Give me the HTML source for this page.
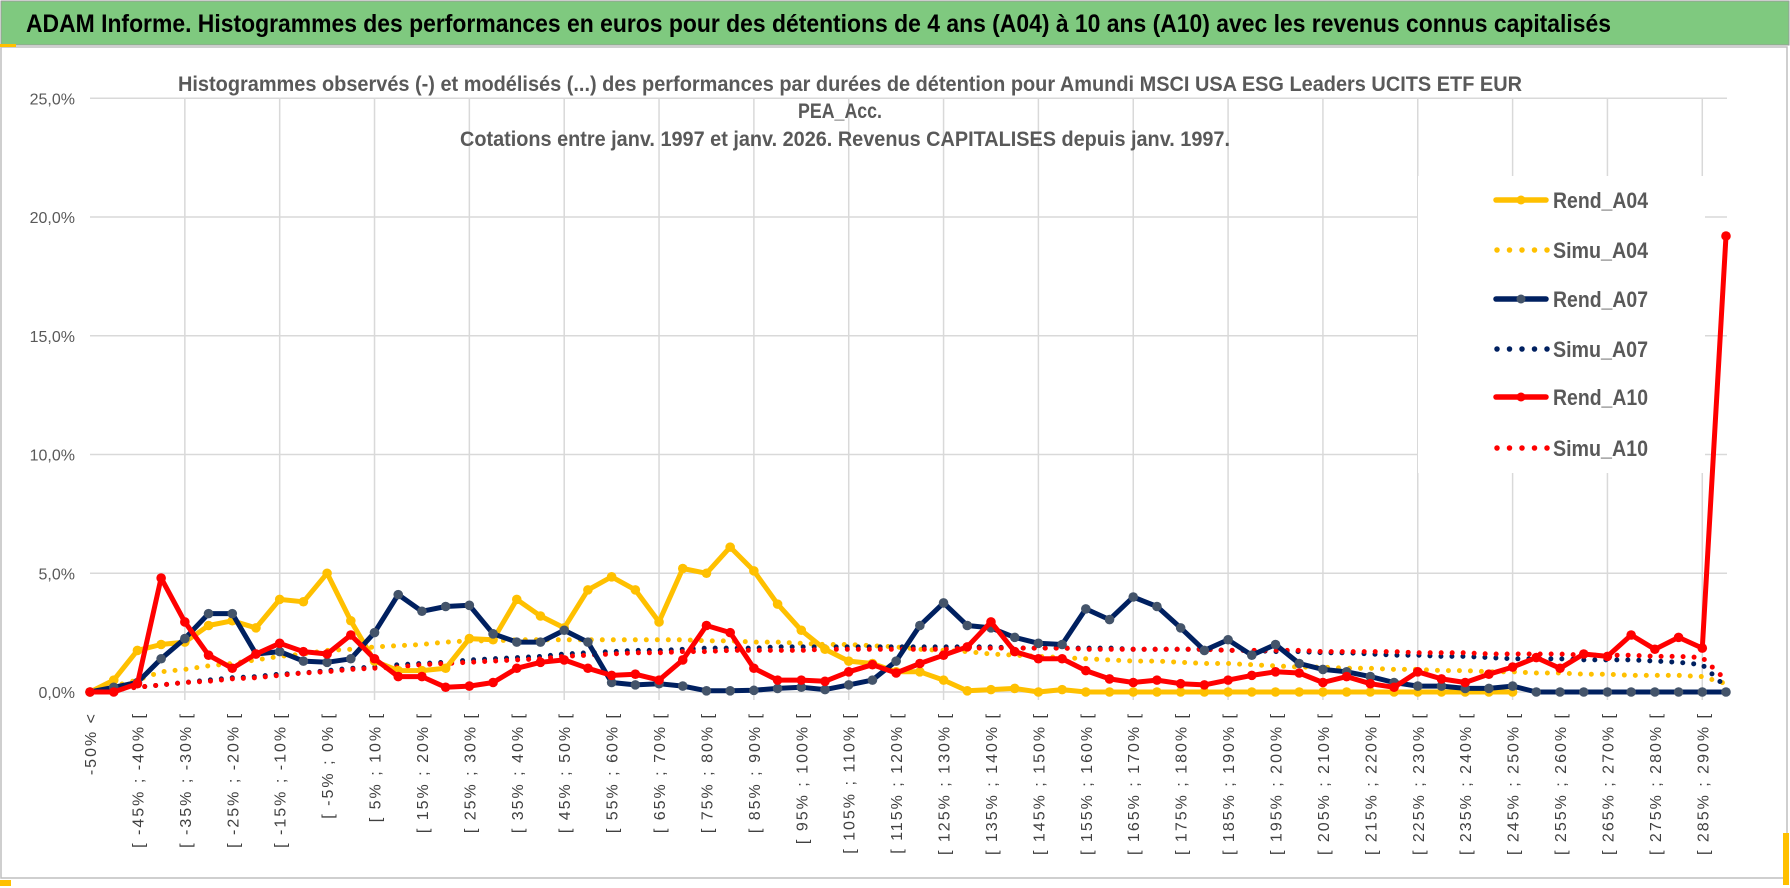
<!DOCTYPE html>
<html><head><meta charset="utf-8"><title>ADAM Informe histogrammes</title>
<style>
html,body{margin:0;padding:0;background:#fff;}
svg{display:block;}
text{font-family:"Liberation Sans",sans-serif;}
</style></head>
<body>
<svg id="chart" width="1790" height="888" viewBox="0 0 1790 888" xmlns="http://www.w3.org/2000/svg">
  <rect x="1" y="1" width="1788" height="44" fill="#7fc97f" stroke="#9a9a9a" stroke-width="1"/>
  <text x="26" y="32" font-size="25" font-weight="bold" fill="#000" textLength="1585" lengthAdjust="spacingAndGlyphs">ADAM Informe. Histogrammes des performances en euros pour des détentions de 4 ans (A04) à 10 ans (A10) avec les revenus connus capitalisés</text>
  <rect x="1" y="47" width="1786" height="831" fill="#fff" stroke="#bfbfbf" stroke-width="1.5"/>
  <rect x="0" y="44" width="16" height="3" fill="#FFC000"/>
  <rect x="0" y="880" width="11" height="6" fill="#FFC000"/>
  <rect x="1783" y="833" width="6" height="52" fill="#FFC000"/>
  <g id="grid"></g>
  <g id="ylabels"></g>
  <g id="xlabels"></g>
  <g id="legend"></g>
  <g id="series"></g>
  <g fill="#595959" font-weight="bold" font-size="21">
    <text x="178" y="91" textLength="1344" lengthAdjust="spacingAndGlyphs">Histogrammes observés (-) et modélisés (...) des performances par durées de détention pour Amundi MSCI USA ESG Leaders UCITS ETF EUR</text>
    <text x="840" y="118" text-anchor="middle" textLength="84" lengthAdjust="spacingAndGlyphs">PEA_Acc.</text>
    <text x="460" y="146" textLength="770" lengthAdjust="spacingAndGlyphs">Cotations entre janv. 1997 et janv. 2026. Revenus CAPITALISES depuis janv. 1997.</text>
  </g>
</svg>
<script>
const categories = ["-50% <"];
for (let a = -50; a < 290; a += 5) categories.push("[ " + a + "% ; " + (a + 5) + "% [");
categories.push("[ 290% ; 295% [");
const yTicks = [0, 5, 10, 15, 20, 25];
const yTickLabels = ["0,0%", "5,0%", "10,0%", "15,0%", "20,0%", "25,0%"];
const seriesNames = ["Rend_A04", "Simu_A04", "Rend_A07", "Simu_A07", "Rend_A10", "Simu_A10"];
const rendA04 = [0,0.5,1.75,2.0,2.1,2.8,3.0,2.7,3.9,3.8,5.0,3.0,1.3,0.9,0.9,1.0,2.25,2.2,3.9,3.2,2.7,4.3,4.85,4.3,2.95,5.2,5.0,6.1,5.1,3.7,2.6,1.8,1.3,1.2,0.85,0.85,0.5,0.05,0.1,0.15,0,0.1,0,0,0,0,0,0,0,0,0,0,0,0,0,0,0,0,0,0,0,null,null,null,null,null,null,null,null,null];
const simuA04 = [0,0.25,0.5,0.85,0.95,1.1,1.2,1.35,1.5,1.6,1.75,1.8,1.9,1.95,2.0,2.1,2.15,2.15,2.2,2.2,2.2,2.2,2.2,2.2,2.2,2.2,2.15,2.15,2.1,2.1,2.05,2.0,2.0,1.95,1.9,1.8,1.75,1.7,1.6,1.55,1.5,1.45,1.4,1.35,1.3,1.3,1.25,1.2,1.2,1.15,1.1,1.05,1.05,1.0,1.0,0.95,0.95,0.9,0.9,0.85,0.85,0.8,0.8,0.75,0.75,0.7,0.7,0.7,0.65,0.35];
const rendA07 = [0,0.2,0.4,1.4,2.25,3.3,3.3,1.6,1.7,1.3,1.25,1.4,2.5,4.1,3.4,3.6,3.65,2.45,2.1,2.1,2.6,2.1,0.4,0.3,0.35,0.25,0.05,0.05,0.07,0.15,0.2,0.1,0.3,0.5,1.3,2.8,3.75,2.8,2.7,2.3,2.05,2.0,3.5,3.05,4.0,3.6,2.7,1.75,2.2,1.55,2.0,1.2,0.95,0.85,0.65,0.4,0.25,0.25,0.15,0.15,0.25,0,0,0,0,0,0,0,0,0];
const simuA07 = [0,0.1,0.2,0.3,0.4,0.5,0.6,0.65,0.75,0.8,0.9,1.0,1.05,1.15,1.2,1.25,1.35,1.4,1.45,1.5,1.6,1.65,1.7,1.75,1.75,1.8,1.85,1.85,1.85,1.9,1.9,1.9,1.9,1.9,1.9,1.9,1.9,1.9,1.9,1.85,1.85,1.85,1.85,1.85,1.8,1.8,1.8,1.8,1.75,1.75,1.7,1.7,1.65,1.65,1.6,1.55,1.55,1.5,1.5,1.45,1.4,1.4,1.4,1.35,1.35,1.35,1.3,1.25,1.15,0.2];
const rendA10 = [0,0,0.35,4.8,2.95,1.55,1.0,1.6,2.05,1.7,1.6,2.4,1.4,0.65,0.65,0.2,0.25,0.4,1.0,1.25,1.35,1.0,0.7,0.75,0.5,1.35,2.8,2.5,1.0,0.5,0.5,0.45,0.85,1.15,0.8,1.2,1.55,1.9,2.95,1.7,1.4,1.4,0.9,0.55,0.4,0.5,0.35,0.3,0.5,0.7,0.85,0.8,0.4,0.65,0.35,0.2,0.85,0.55,0.4,0.75,1.05,1.45,1.0,1.6,1.5,2.4,1.8,2.3,1.85,19.2];
const simuA10 = [0,0.1,0.2,0.3,0.4,0.45,0.55,0.6,0.7,0.8,0.85,0.95,1.0,1.05,1.15,1.2,1.25,1.3,1.35,1.4,1.5,1.55,1.6,1.65,1.65,1.7,1.7,1.75,1.75,1.75,1.75,1.8,1.8,1.8,1.8,1.8,1.8,1.85,1.85,1.85,1.85,1.85,1.8,1.8,1.8,1.8,1.8,1.8,1.75,1.75,1.75,1.75,1.7,1.7,1.7,1.7,1.65,1.65,1.65,1.6,1.6,1.6,1.6,1.55,1.55,1.55,1.5,1.5,1.45,0.5];

const NS = "http://www.w3.org/2000/svg";
const X0 = 90, DX = 23.71, Y0 = 692, PPU = 23.75;
function xPos(i) { return X0 + i * DX; }
function yPos(v) { return Y0 - v * PPU; }
function mk(tag, attrs, parent) {
  const e = document.createElementNS(NS, tag);
  for (const k in attrs) e.setAttribute(k, attrs[k]);
  parent.appendChild(e);
  return e;
}
const gGrid = document.getElementById("grid");
const gY = document.getElementById("ylabels");
const gX = document.getElementById("xlabels");
const gS = document.getElementById("series");
const gL = document.getElementById("legend");
const xEnd = xPos(categories.length - 1) + 1;

yTicks.forEach((t, k) => {
  const ln = mk("line", {x1: X0, x2: xEnd, y1: yPos(t), y2: yPos(t), stroke: "#d9d9d9", "stroke-width": 1.5}, gGrid);
  
  
  const tx = mk("text", {x: 75, y: yPos(t) + 6, "text-anchor": "end", "font-size": 16, fill: "#595959"}, gY);
  tx.textContent = yTickLabels[k];
  
  
});
for (let i = 4; i < categories.length; i += 4) {
  const ln = mk("line", {x1: xPos(i), x2: xPos(i), y1: yPos(25), y2: Y0 + 8, stroke: "#d9d9d9", "stroke-width": 1.5}, gGrid);
  
  
}
categories.forEach((c, i) => {
  if (i % 2 !== 0) return;
  const x = xPos(i) + 6, y = 712;
  const tx = mk("text", {x: x, y: y, transform: "rotate(-90 " + x + " " + y + ")", "text-anchor": "end", "font-size": 16, fill: "#404040", "letter-spacing": "2"}, gX);
  tx.textContent = c;
  
  
});

const styles = [
  {data: rendA04, color: "#FFC000", dotted: false, marker: "#FFC000"},
  {data: simuA04, color: "#FFC000", dotted: true},
  {data: rendA07, color: "#002060", dotted: false, marker: "#44546A"},
  {data: simuA07, color: "#002060", dotted: true},
  {data: rendA10, color: "#FF0000", dotted: false, marker: "#FF0000"},
  {data: simuA10, color: "#FF0000", dotted: true}
];

mk("rect", {x: 1418, y: 176, width: 287, height: 297, fill: "#fff"}, gL);
const rowsY = [200, 250, 299, 349, 397, 448];
seriesNames.forEach((n, k) => {
  const st = styles[k];
  const y = rowsY[k];
  const ent = mk("g", {}, gL);
  
  
  if (st.dotted) {
    mk("line", {x1: 1497, x2: 1548, y1: y, y2: y, stroke: st.color, "stroke-width": 5.5, "stroke-linecap": "round", "stroke-dasharray": "0 12.5"}, ent);
  } else {
    mk("line", {x1: 1496, x2: 1546, y1: y, y2: y, stroke: st.color, "stroke-width": 5.5, "stroke-linecap": "round"}, ent);
    mk("circle", {cx: 1521, cy: y, r: 4.5, fill: st.marker}, ent);
  }
  const tx = mk("text", {x: 1553, y: y + 8, "font-size": 22, "font-weight": "bold", fill: "#595959", textLength: 95, lengthAdjust: "spacingAndGlyphs"}, ent);
  tx.textContent = n;
});

const drawOrder = [1, 3, 5, 0, 2, 4];
drawOrder.forEach(s => {
  const st = styles[s];
  let d = "";
  let started = false;
  st.data.forEach((v, i) => {
    if (v === null) { started = false; return; }
    d += (started ? "L" : "M") + xPos(i).toFixed(1) + "," + yPos(v).toFixed(1);
    started = true;
  });
  const g = mk("g", {}, gS);
  
  
  const p = mk("path", {d: d, fill: "none", stroke: st.color, "stroke-width": 5, "stroke-linejoin": "round", "stroke-linecap": "round"}, g);
  if (st.dotted) p.setAttribute("stroke-dasharray", "0 11");
  
  
  if (!st.dotted) {
    st.data.forEach((v, i) => {
      if (v === null) return;
      const c = mk("circle", {cx: xPos(i), cy: yPos(v), r: 4.8, fill: st.marker}, g);
      
      
    });
  }
});
</script>
</body></html>
